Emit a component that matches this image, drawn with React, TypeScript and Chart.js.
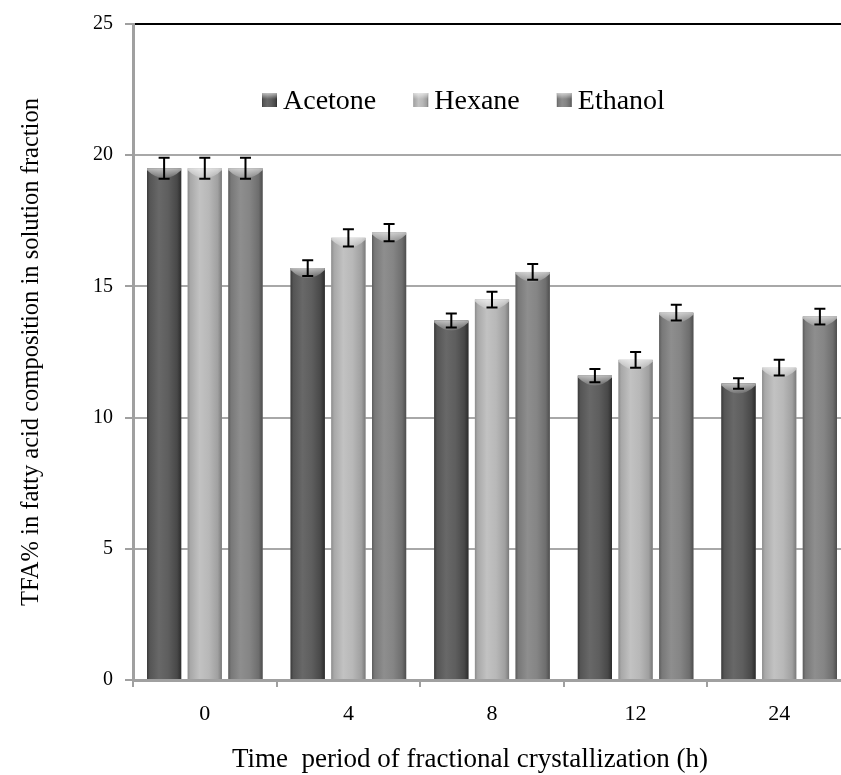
import React, { useEffect, useRef } from 'react';
import { Chart, registerables } from 'chart.js';

Chart.register(...registerables);

// ---- data ----
const categories = ['0', '4', '8', '12', '24'];
const seriesNames = ['Acetone', 'Hexane', 'Ethanol'];
const acetone = [19.5, 15.7, 13.7, 11.6, 11.3];
const hexane = [19.5, 16.85, 14.5, 12.2, 11.9];
const ethanol = [19.5, 17.05, 15.55, 14.0, 13.85];
const acetoneErr = [0.4, 0.3, 0.27, 0.25, 0.2];
const hexaneErr = [0.4, 0.33, 0.3, 0.3, 0.3];
const ethanolErr = [0.4, 0.33, 0.3, 0.3, 0.3];
const yTickValues = [0, 5, 10, 15, 20, 25];
const yTitle = 'TFA% in fatty acid composition in solution fraction';
const xTitle = 'Time  period of fractional crystallization (h)';

const seriesValues = [acetone, hexane, ethanol];
const seriesErrors = [acetoneErr, hexaneErr, ethanolErr];

const FONT = "'Liberation Serif', 'Times New Roman', serif";

const shades: { base: string; stops: [number, string][] }[] = [
  {
    base: '#5c5c5c',
    stops: [[0, '#3a3a3a'], [0.08, '#555555'], [0.35, '#686868'], [0.62, '#5e5e5e'], [0.88, '#484848'], [1, '#2c2c2c']],
  },
  {
    base: '#b4b4b4',
    stops: [[0, '#8c8c8c'], [0.08, '#a8a8a8'], [0.35, '#c2c2c2'], [0.62, '#b8b8b8'], [0.88, '#a0a0a0'], [1, '#7a7a7a']],
  },
  {
    base: '#858585',
    stops: [[0, '#5c5c5c'], [0.08, '#787878'], [0.35, '#8e8e8e'], [0.62, '#858585'], [0.88, '#6e6e6e'], [1, '#4e4e4e']],
  },
];

const drawPlugin = {
  id: 'customDraw',
  afterDatasetsDraw(chart: any) {
    const ctx = chart.ctx as CanvasRenderingContext2D;
    const yScale = chart.scales.y;
    chart.data.datasets.forEach((_ds: any, di: number) => {
      const meta = chart.getDatasetMeta(di);
      const sh = shades[di];
      meta.data.forEach((bar: any) => {
        const { x, y, base, width } = bar.getProps(['x', 'y', 'base', 'width'], true);
        const l = x - width / 2;
        const r = x + width / 2;
        ctx.save();
        const g = ctx.createLinearGradient(l, 0, r, 0);
        sh.stops.forEach(([o, c]) => g.addColorStop(o, c));
        ctx.fillStyle = g;
        ctx.fillRect(l, y, width, base - y);
        // top bevel highlight
        const cap = ctx.createLinearGradient(0, y, 0, y + 12);
        cap.addColorStop(0, 'rgba(255,255,255,0.6)');
        cap.addColorStop(1, 'rgba(255,255,255,0)');
        ctx.beginPath();
        ctx.moveTo(l, y);
        ctx.lineTo(r, y);
        ctx.lineTo(r, y + 2);
        ctx.quadraticCurveTo(x, y + 18, l, y + 2);
        ctx.closePath();
        ctx.fillStyle = cap;
        ctx.fill();
        ctx.restore();
      });
    });
    // error bars
    ctx.save();
    ctx.strokeStyle = '#000';
    ctx.lineWidth = 2;
    chart.data.datasets.forEach((_ds: any, di: number) => {
      const meta = chart.getDatasetMeta(di);
      meta.data.forEach((bar: any, i: number) => {
        const v = seriesValues[di][i];
        const e = seriesErrors[di][i];
        const x = bar.x;
        const yTop = yScale.getPixelForValue(v + e);
        const yBot = yScale.getPixelForValue(v - e);
        ctx.beginPath();
        ctx.moveTo(x, yTop);
        ctx.lineTo(x, yBot);
        ctx.moveTo(x - 5.5, yTop);
        ctx.lineTo(x + 5.5, yTop);
        ctx.moveTo(x - 5.5, yBot);
        ctx.lineTo(x + 5.5, yBot);
        ctx.stroke();
      });
    });
    ctx.restore();
  },
  afterDraw(chart: any) {
    const ctx = chart.ctx as CanvasRenderingContext2D;
    const area = chart.chartArea;
    ctx.save();
    // legend
    ctx.font = `28px ${FONT}`;
    ctx.textBaseline = 'alphabetic';
    ctx.textAlign = 'left';
    let lx = 262;
    const ly = 109;
    seriesNames.forEach((name, i) => {
      const sh = shades[i];
      const g = ctx.createLinearGradient(lx, 0, lx + 15, 0);
      sh.stops.forEach(([o, c]) => g.addColorStop(o, c));
      ctx.fillStyle = g;
      ctx.fillRect(lx, ly - 16, 15, 14);
      const cap = ctx.createLinearGradient(0, ly - 16, 0, ly - 10);
      cap.addColorStop(0, 'rgba(255,255,255,0.6)');
      cap.addColorStop(1, 'rgba(255,255,255,0)');
      ctx.fillStyle = cap;
      ctx.fillRect(lx, ly - 16, 15, 6);
      ctx.fillStyle = '#000';
      ctx.fillText(name, lx + 21, ly);
      lx += 21 + ctx.measureText(name).width + 37;
    });
    // y title
    ctx.font = `24.5px ${FONT}`;
    ctx.textAlign = 'center';
    ctx.textBaseline = 'middle';
    ctx.translate(32, (area.top + area.bottom) / 2);
    ctx.rotate(-Math.PI / 2);
    ctx.fillText(yTitle, 0, 0);
    ctx.restore();
    // x title
    ctx.save();
    ctx.font = `27px ${FONT}`;
    ctx.fillStyle = '#000';
    ctx.textAlign = 'center';
    ctx.textBaseline = 'middle';
    ctx.fillText(xTitle, 470, 760);
    ctx.restore();
  },
};

export default function App() {
  const canvasRef = useRef<HTMLCanvasElement | null>(null);

  useEffect(() => {
    const canvas = canvasRef.current;
    if (!canvas) return;
    const chart = new Chart(canvas, {
      type: 'bar',
      data: {
        labels: categories,
        datasets: seriesNames.map((name, i) => ({
          label: name,
          data: seriesValues[i],
          backgroundColor: shades[i].base,
          borderWidth: 0,
          categoryPercentage: 0.85,
          barPercentage: 0.84,
        })),
      },
      options: {
        responsive: false,
        animation: false,
        events: [],
        layout: { padding: { top: 22, left: 0, right: 0, bottom: 0 } },
        plugins: {
          legend: { display: false },
          tooltip: { enabled: false },
          title: { display: false },
        },
        scales: {
          x: {
            type: 'category',
            offset: true,
            afterFit: (scale: any) => {
              scale.height = 95;
            },
            grid: {
              display: true,
              drawOnChartArea: false,
              drawTicks: true,
              tickLength: 7,
              color: '#a0a0a0',
              lineWidth: 2,
              offset: true,
            },
            border: { display: true, color: '#a0a0a0', width: 3 },
            ticks: {
              color: '#000',
              font: { family: FONT, size: 22 },
              padding: 14,
              maxRotation: 0,
            },
          },
          y: {
            min: 0,
            max: 25,
            afterFit: (scale: any) => {
              scale.width = 133;
            },
            afterBuildTicks: (scale: any) => {
              scale.ticks = yTickValues.map((v) => ({ value: v }));
            },
            grid: {
              color: (c: any) => (c.tick && c.tick.value === 25 ? '#000000' : '#a8a8a8'),
              lineWidth: 2,
              tickColor: '#a0a0a0',
              tickLength: 8,
              tickWidth: 2,
            },
            border: { display: true, color: '#a0a0a0', width: 3 },
            ticks: {
              color: '#000',
              font: { family: FONT, size: 20 },
              padding: 12,
            },
          },
        },
      },
      plugins: [drawPlugin],
    } as any);
    return () => chart.destroy();
  }, []);

  return (
    <div
      style={{
        position: 'absolute',
        left: 0,
        top: 0,
        width: 841,
        height: 775,
        overflow: 'hidden',
        background: '#fff',
      }}
    >
      <canvas ref={canvasRef} width={851} height={775} style={{ display: 'block' }} />
    </div>
  );
}
